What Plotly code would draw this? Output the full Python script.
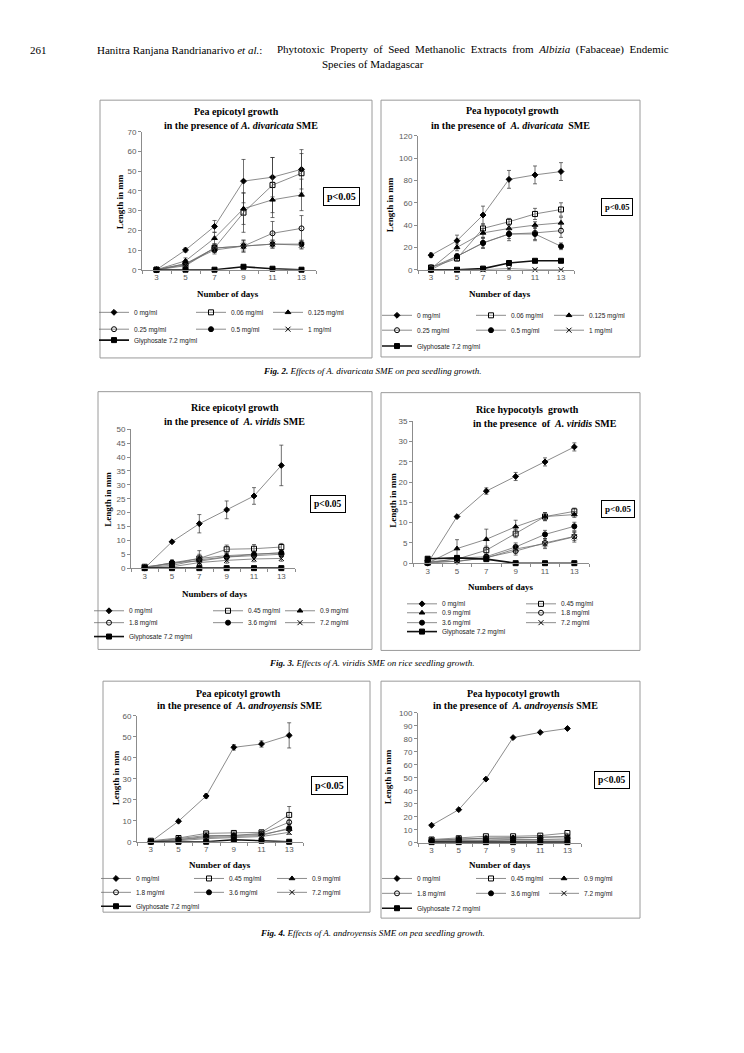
import plotly.graph_objects as go

W, H = 744, 1053
days = [3, 5, 7, 9, 11, 13]

labels_div = ["0 mg/ml", "0.06 mg/ml", "0.125 mg/ml", "0.25 mg/ml", "0.5 mg/ml", "1 mg/ml", "Glyphosate 7.2 mg/ml"]
labels_vir = ["0 mg/ml", "0.45 mg/ml", "0.9 mg/ml", "1.8 mg/ml", "3.6 mg/ml", "7.2 mg/ml", "Glyphosate 7.2 mg/ml"]

# Fig 2 left: pea epicotyl, A. divaricata
pea_epi_div = [
    [0, 10, 22, 45, 47, 51],
    [0, 2.5, 11, 29, 43, 49],
    [0, 4.5, 16, 31, 35.5, 38],
    [0, 3, 11, 12, 18.5, 21],
    [0, 3, 10, 12, 13, 13],
    [0, 2, 11, 12, 13, 12.5],
    [0, 0, 0, 1.5, 0.5, 0],
]
pea_epi_div_err = [
    [0, 1, 3, 11, 10, 10],
    [0, 2, 2, 10, 14, 10],
    [0, 1.5, 3, 8, 9, 8],
    [0, 1, 2, 3, 6, 6.5],
    [0, 1, 2, 2, 2, 2],
    [0, 1, 2, 3, 2, 2],
    [0, 0, 0, 0.5, 0.3, 0],
]
# Fig 2 right: pea hypocotyl, A. divaricata
pea_hyp_div = [
    [13, 26, 49, 81, 85, 88],
    [2, 10, 37, 43, 50, 54],
    [1, 20, 33, 37, 40, 42],
    [2, 12, 24, 32, 33, 35],
    [0, 12, 24, 32, 32, 21],
    [0, 0, 0, 1, 0, 0],
    [0, 0, 1, 6, 8, 8],
]
pea_hyp_div_err = [
    [2, 5, 8, 8, 8, 8],
    [1, 2, 4, 3, 5, 6],
    [1, 3, 4, 3, 3, 5],
    [1, 2, 4, 4, 6, 6],
    [0.5, 2, 5, 6, 6, 3],
    [0, 0, 0, 0, 0, 0],
    [0, 0, 0.5, 1, 1, 1],
]
# Fig 3 left: rice epicotyl, A. viridis
rice_epi_vir = [
    [0, 9.5, 16, 21, 26, 37],
    [0.5, 1.5, 3.5, 6.8, 7, 7.6],
    [0.3, 2, 3.5, 4.5, 5, 5.5],
    [0.2, 1, 3, 4, 4.5, 5],
    [0, 2, 2.5, 4, 5, 5.5],
    [0, 0.5, 2, 2.8, 3.3, 3.5],
    [0, 0, 0, 0, 0, 0],
]
rice_epi_vir_err = [
    [0, 0.3, 3.3, 3.2, 3, 7.3],
    [0.5, 1, 2.8, 1.5, 1.5, 1.3],
    [0.3, 1, 1.5, 1, 1, 1],
    [0.2, 0.5, 1, 1, 1, 1],
    [0, 0.5, 1, 1, 1, 1],
    [0, 0.3, 1, 1, 1, 1],
    [0, 0, 0, 0, 0, 0],
]
# Fig 3 right: rice hypocotyls, A. viridis
rice_hyp_vir = [
    [0, 11.5, 17.8, 21.4, 25, 28.7],
    [0.2, 1, 3.2, 7.3, 11.5, 12.8],
    [0, 3.6, 5.9, 9, 11.5, 12],
    [0.5, 0.4, 1.4, 3, 5, 6.6],
    [0, 1.2, 1.6, 4, 7.1, 9.1],
    [0, 0.5, 1.3, 3.5, 4.8, 6.5],
    [1.1, 1.3, 1.0, 0, 0, 0],
]
rice_hyp_vir_err = [
    [0, 0.3, 0.8, 1, 1, 1],
    [0.2, 0.5, 1, 1, 1, 0.8],
    [0, 2.2, 2.5, 1.6, 1, 0.7],
    [0.3, 0.3, 0.5, 1, 1, 1],
    [0, 0.3, 0.6, 1, 1, 1],
    [0, 0.3, 0.5, 1, 1.2, 1.3],
    [0, 0, 0, 0, 0, 0],
]
# Fig 4 left: pea epicotyl, A. androyensis
pea_epi_and = [
    [0, 9.8, 21.8, 45, 46.6, 50.7],
    [0.5, 1.8, 4, 4.2, 4.5, 12.8],
    [0, 1.5, 3, 3, 3.5, 6],
    [0, 1, 2.5, 3, 4, 9.3],
    [0, 1, 2, 2.5, 3, 6.5],
    [0, 0.5, 1.5, 2, 2.5, 4.5],
    [0, 0, 0, 1, 0.5, 0],
]
pea_epi_and_err = [
    [0, 0.3, 1, 1.3, 1.5, 6],
    [0.3, 0.5, 0.5, 0.5, 0.5, 4],
    [0, 0.3, 0.5, 0.5, 0.5, 1],
    [0, 0.3, 0.5, 0.5, 0.5, 1],
    [0, 0.3, 0.5, 0.5, 0.5, 1],
    [0, 0.3, 0.5, 0.5, 0.5, 1],
    [0, 0, 0, 0, 0, 0],
]
# Fig 4 right: pea hypocotyl, A. androyensis
pea_hyp_and = [
    [13.5, 25.5, 49, 81, 85, 88],
    [2.5, 3.5, 5, 5, 5.5, 7.5],
    [2, 3, 3.5, 4, 4, 4.5],
    [2, 3, 3.5, 3.5, 4, 5],
    [1.5, 2, 2, 2.5, 2.5, 3],
    [1, 1.5, 2, 2, 2, 2],
    [0.5, 0.5, 0.5, 0.5, 0.5, 0.5],
]

symbols = ["diamond", "square-open", "triangle-up", "circle-open", "circle", "x-thin-open", "square"]
msizes = [4.5, 5, 5, 5, 5, 5, 5]

SERIF = "Liberation Serif"
SANS = "Liberation Sans"


def px(x):
    return x / W


def py(y):
    return 1 - y / H


panels = [
    dict(means=pea_epi_div, err=pea_epi_div_err, labels=labels_div, ymax=70, dtick=10,
         ax=(142, 316), ay=(268, 129), frame=(100, 97, 372, 357),
         t1=("Pea epicotyl growth", 236, 108),
         t2=("in the presence of <i>A. divaricata</i> SME", 241, 123),
         pbox=(341.5, 194.5, 10), xt=("Number of days", 228, 292), yt=(120, 200),
         cols=[108, 205, 282], rows=[311, 328, 339]),
    dict(means=pea_hyp_div, err=pea_hyp_div_err, labels=labels_div, ymax=120, dtick=20,
         ax=(418, 574), ay=(268, 133), frame=(381, 97, 640, 356),
         t1=("Pea hypocotyl growth", 512, 107),
         t2=("in the presence of  <i>A. divaricata</i>  SME", 511, 123),
         pbox=(616.5, 205, 8.5), xt=("Number of days", 500, 292), yt=(390, 203),
         cols=[391, 485, 563], rows=[314, 329, 345]),
    dict(means=rice_epi_vir, err=rice_epi_vir_err, labels=labels_vir, ymax=50, dtick=5,
         ax=(131, 295), ay=(569, 429), frame=(98, 391, 372, 651),
         t1=("Rice epicotyl growth", 235, 407),
         t2=("in the presence of  <i>A. viridis</i> SME", 234, 421),
         pbox=(328, 504.5, 9.5), xt=("Numbers of days", 215, 595), yt=(108, 500),
         cols=[103, 222, 294], rows=[612, 624, 638]),
    dict(means=rice_hyp_vir, err=rice_hyp_vir_err, labels=labels_vir, ymax=35, dtick=5,
         ax=(413, 589), ay=(564, 421), frame=(381, 392, 640, 652),
         t1=("Rice hypocotyls  growth", 527, 409),
         t2=("in the presence  of  <i>A. viridis</i> SME", 545, 423),
         pbox=(618, 509.5, 9), xt=("Numbers of days", 501, 588), yt=(393, 501),
         cols=[416, 535], rows=[605, 614, 624, 633]),
    dict(means=pea_epi_and, err=pea_epi_and_err, labels=labels_vir, ymax=60, dtick=10,
         ax=(137, 303), ay=(845, 718), frame=(103, 683, 370, 916),
         t1=("Pea epicotyl growth", 238, 695),
         t2=("in the presence of  <i>A. androyensis</i> SME", 239, 708),
         pbox=(329, 788, 10), xt=("Number of days", 220, 868), yt=(116, 781),
         cols=[110, 203, 286], rows=[882, 896, 910]),
    dict(means=pea_hyp_and, err=None, labels=labels_vir, ymax=100, dtick=10,
         ax=(418, 581), ay=(846, 715), frame=(381, 683, 640, 922),
         t1=("Pea hypocotyl growth", 513, 695),
         t2=("in the presence of  <i>A. androyensis</i> SME", 515, 708),
         pbox=(612, 783, 9.5), xt=("Number of days", 500, 868), yt=(388, 780),
         cols=[391, 485, 558], rows=[882, 897, 912]),
]

fig = go.Figure()
layout = dict(width=W, height=H, margin=dict(l=0, r=0, t=0, b=0),
              paper_bgcolor="white", plot_bgcolor="white", showlegend=True)
annotations = []
shapes = []
legend_idx = 0

for pi, p in enumerate(panels):
    n = pi + 1
    xa = "xaxis" if n == 1 else f"xaxis{n}"
    ya = "yaxis" if n == 1 else f"yaxis{n}"
    xr = "x" if n == 1 else f"x{n}"
    yr = "y" if n == 1 else f"y{n}"
    layout[xa] = dict(
        domain=[px(p["ax"][0]), px(p["ax"][1])], range=[2, 14], anchor=yr,
        showline=True, linecolor="#8c8c8c", linewidth=1, showgrid=False, zeroline=False,
        tickvals=days, ticks="", tickfont=dict(family=SANS, size=8, color="#595959"),
        minor=dict(tickvals=[2, 4, 6, 8, 10, 12, 14], ticks="outside", ticklen=3,
                   tickcolor="#8c8c8c", showgrid=False),
        fixedrange=True,
    )
    layout[ya] = dict(
        domain=[py(p["ay"][0]), py(p["ay"][1])], range=[0, p["ymax"]], anchor=xr,
        showline=True, linecolor="#8c8c8c", linewidth=1, showgrid=False, zeroline=False,
        dtick=p["dtick"], ticks="outside", ticklen=3, tickcolor="#8c8c8c",
        tickfont=dict(family=SANS, size=8, color="#595959"), fixedrange=True,
    )
    ncols = len(p["cols"])
    for si, (lab, vals) in enumerate(zip(p["labels"], p["means"])):
        legend_idx += 1
        lid = "legend" if legend_idx == 1 else f"legend{legend_idx}"
        gly = si == 6
        err = p["err"][si] if p["err"] is not None else None
        tr = go.Scatter(
            x=days, y=vals, name=lab, xaxis=xr, yaxis=yr, mode="lines+markers",
            line=dict(color="#111111" if gly else "#6e6e6e", width=1.6 if gly else 0.8),
            marker=dict(symbol=symbols[si], size=msizes[si], color="black",
                        line=dict(color="black", width=1)),
            cliponaxis=False, legend=lid,
        )
        if err is not None:
            tr.error_y = dict(type="data", array=err, visible=True, color="#333333",
                              thickness=0.7, width=2)
        fig.add_trace(tr)
        r, c = divmod(si, ncols)
        layout[lid] = dict(
            x=px(p["cols"][c] - 14), y=py(p["rows"][r]), xanchor="left", yanchor="middle",
            orientation="h", bgcolor="rgba(0,0,0,0)", borderwidth=0, itemwidth=30,
            font=dict(family=SANS, size=6.5, color="#222222"), tracegroupgap=0,
            itemclick=False, itemdoubleclick=False,
        )
    # frame
    f = p["frame"]
    shapes.append(dict(type="rect", xref="paper", yref="paper",
                       x0=px(f[0]), x1=px(f[2]), y0=py(f[3]), y1=py(f[1]),
                       line=dict(color="#9a9a9a", width=1)))
    # titles
    for (txt, cx, cy) in (p["t1"], p["t2"]):
        annotations.append(dict(text=f"<b>{txt}</b>", x=px(cx), y=py(cy), xref="paper", yref="paper",
                                showarrow=False, xanchor="center", yanchor="middle",
                                font=dict(family=SERIF, size=10, color="black")))
    # p-value box
    bx, by, bs = p["pbox"]
    annotations.append(dict(text="<b>p&lt;0.05</b>", x=px(bx), y=py(by), xref="paper", yref="paper",
                            showarrow=False, xanchor="center", yanchor="middle",
                            bordercolor="black", borderwidth=1, borderpad=3, bgcolor="white",
                            font=dict(family=SERIF, size=bs, color="black")))
    # axis titles
    xt, xx, xy = p["xt"]
    annotations.append(dict(text=f"<b>{xt}</b>", x=px(xx), y=py(xy), xref="paper", yref="paper",
                            showarrow=False, xanchor="center", yanchor="middle",
                            font=dict(family=SERIF, size=9, color="black")))
    yx, yy = p["yt"]
    annotations.append(dict(text="<b>Length in mm</b>", x=px(yx), y=py(yy), xref="paper", yref="paper",
                            showarrow=False, xanchor="center", yanchor="middle", textangle=-90,
                            font=dict(family=SERIF, size=9, color="black")))

# page header
hdr_font = dict(family=SERIF, size=11, color="black")
annotations.append(dict(text="261", x=px(28), y=py(46), xref="paper", yref="paper", showarrow=False,
                        xanchor="left", yanchor="middle", font=hdr_font))
annotations.append(dict(text="Hanitra Ranjana Randrianarivo <i>et al.</i>:", x=px(95), y=py(46),
                        xref="paper", yref="paper", showarrow=False, xanchor="left", yanchor="middle",
                        font=hdr_font))
annotations.append(dict(text="Phytotoxic  Property  of  Seed  Methanolic  Extracts  from  <i>Albizia</i>  (Fabaceae)  Endemic",
                        x=px(275), y=py(46), xref="paper", yref="paper", showarrow=False,
                        xanchor="left", yanchor="middle", font=hdr_font))
annotations.append(dict(text="Species of Madagascar", x=px(373), y=py(61), xref="paper", yref="paper",
                        showarrow=False, xanchor="center", yanchor="middle", font=hdr_font))

# captions
cap_font = dict(family=SERIF, size=9, color="black")
captions = [
    ("<b><i>Fig. 2.</i></b><i> Effects of A. divaricata SME on pea seedling growth.</i>", 370),
    ("<b><i>Fig. 3.</i></b><i> Effects of A. viridis SME on rice seedling growth.</i>", 665),
    ("<b><i>Fig. 4.</i></b><i> Effects of A. androyensis SME on pea seedling growth.</i>", 937),
]
for txt, cy in captions:
    annotations.append(dict(text=txt, x=px(372), y=py(cy), xref="paper", yref="paper",
                            showarrow=False, xanchor="center", yanchor="middle", font=cap_font))

layout["annotations"] = annotations
layout["shapes"] = shapes
fig.update_layout(**layout)
fig.write_html("out.html", config={"displayModeBar": False},
               post_script="document.body.style.margin='0';document.body.style.overflow='hidden';")
